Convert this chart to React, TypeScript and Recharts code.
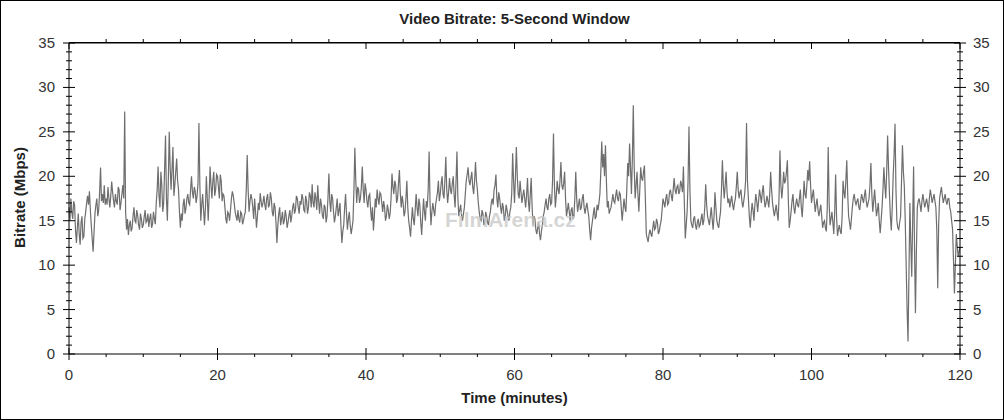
import { Line, LineChart, XAxis, YAxis } from "recharts";

// 5-second window bitrate, one reading every 0.125 min
const STEP_MIN = 0.125;
const BITRATE = [
    16.5, 15.0, 17.5, 16.0, 15.2, 17.2, 16.8, 14.0, 12.5, 14.2, 15.8, 13.5, 12.3, 14.8, 15.5, 13.0, 13.2, 15.2, 16.0, 17.0, 17.8, 16.8, 18.3, 16.2, 14.5, 13.0, 11.5, 13.8, 15.8, 16.8, 17.5, 15.5, 16.2, 18.2, 21.0, 17.2, 18.0, 17.0, 19.0, 16.8,
    17.5, 16.8, 18.8, 17.5, 16.5, 17.8, 19.4, 18.2, 17.2, 16.5, 18.0, 17.2, 16.8, 18.8, 18.5, 16.2, 17.0, 18.0, 19.0, 17.5, 27.3, 16.0, 14.0, 15.2, 13.4, 14.5, 15.0, 13.8, 14.2, 15.5, 16.5, 15.0, 14.8, 16.2, 15.6, 14.5, 14.0, 15.8, 15.2, 14.2,
    14.5, 15.4, 16.2, 14.8, 15.0, 15.8, 14.3, 15.2, 15.8, 14.2, 14.6, 16.0, 15.2, 14.6, 17.0, 18.5, 21.1, 17.8, 16.5, 20.5, 19.0, 16.0, 17.0, 20.8, 24.6, 17.5, 15.0, 19.5, 25.0, 21.0, 18.5, 20.8, 23.3, 17.8, 19.0, 20.5, 22.0, 19.5, 18.5, 16.0,
    14.2, 15.8, 15.0, 16.8, 17.5, 15.8, 16.4, 17.5, 18.0, 17.0, 16.8, 18.5, 20.0, 18.2, 17.5, 18.8, 18.3, 17.0, 17.8, 19.2, 26.0, 19.0, 15.0, 16.8, 18.0, 16.2, 14.5, 16.5, 20.0, 17.5, 15.0, 17.8, 21.1, 19.0, 17.5, 19.5, 20.5, 17.8, 18.5, 20.2,
    20.0, 18.8, 17.5, 20.2, 19.5, 17.2, 18.0, 17.8, 16.5, 15.2, 14.7, 16.0, 15.8, 15.0, 16.2, 17.5, 18.3, 17.8, 17.0, 16.0, 15.5, 15.0, 16.2, 15.2, 14.8, 16.0, 15.8, 14.6, 15.0, 15.6, 16.0, 18.5, 22.4, 18.5, 16.0, 17.2, 18.0, 17.5, 16.5, 15.2,
    17.5, 16.0, 14.2, 15.5, 17.0, 16.2, 18.1, 17.2, 16.5, 17.0, 17.8, 16.8, 16.2, 17.5, 18.0, 16.5, 16.8, 18.2, 17.5, 16.0, 15.5, 17.0, 16.5, 14.8, 12.5, 14.5, 15.8, 16.5, 14.5, 15.2, 16.0, 14.6, 15.0, 16.2, 15.5, 14.2, 14.8, 15.6, 16.2, 14.8,
    15.5, 16.5, 17.0, 15.8, 16.2, 17.8, 17.5, 16.5, 15.8, 17.2, 16.8, 18.0, 17.5, 16.2, 16.0, 17.8, 17.2, 15.8, 16.5, 18.2, 17.8, 16.5, 19.1, 17.0, 16.5, 18.2, 17.5, 16.2, 19.0, 17.2, 15.8, 17.5, 16.8, 15.6, 15.2, 16.8, 16.5, 14.8, 15.5, 17.5,
    20.3, 17.2, 16.0, 18.0, 17.5, 16.0, 14.8, 15.5, 16.5, 17.5, 15.5, 16.2, 17.0, 14.5, 12.5, 13.8, 14.5, 16.5, 18.0, 15.8, 14.0, 15.2, 16.0, 14.5, 13.5, 14.2, 15.0, 18.5, 23.2, 19.5, 17.0, 18.8, 18.5, 17.0, 17.5, 18.8, 21.1, 18.5, 17.0, 19.2,
    18.5, 17.2, 16.5, 17.8, 18.0, 16.2, 15.0, 16.5, 13.9, 15.5, 17.5, 16.5, 18.5, 17.5, 16.8, 18.2, 18.0, 17.0, 16.0, 17.2, 16.5, 15.0, 15.5, 16.8, 16.2, 15.2, 15.8, 17.5, 20.3, 18.8, 18.0, 19.5, 19.0, 17.0, 17.5, 19.2, 20.7, 18.0, 16.5, 17.8,
    17.0, 15.5, 16.0, 17.5, 19.5, 16.5, 15.0, 14.2, 13.2, 15.0, 16.5, 15.2, 14.5, 16.2, 18.0, 16.5, 15.5, 17.5, 16.8, 14.8, 13.4, 15.5, 17.5, 16.0, 15.0, 17.2, 16.5, 18.5, 22.8, 17.0, 14.5, 16.0, 17.0, 16.2, 15.5, 16.8, 17.5, 18.2, 19.5, 17.2,
    18.0, 19.2, 20.0, 18.0, 17.5, 19.5, 22.2, 18.5, 17.0, 18.2, 19.8, 18.5, 18.0, 19.2, 20.0, 17.8, 16.5, 19.5, 22.8, 17.5, 15.5, 16.2, 16.8, 15.5, 15.0, 15.8, 16.5, 18.0, 19.5, 20.2, 21.0, 19.5, 19.0, 19.8, 20.5, 18.8, 18.0, 19.5, 21.6, 19.5,
    18.5, 17.0, 16.0, 15.2, 15.0, 16.2, 15.8, 14.5, 14.8, 16.0, 15.5, 14.8, 14.5, 15.5, 16.0, 17.0, 17.5, 16.8, 18.5, 19.0, 20.2, 17.5, 16.5, 18.2, 17.5, 16.5, 15.8, 17.0, 16.5, 15.0, 15.5, 16.8, 16.2, 15.5, 15.0, 16.0, 16.5, 18.0, 22.6, 19.5,
    17.0, 19.8, 23.3, 20.0, 18.0, 17.5, 19.5, 18.2, 17.0, 17.8, 18.5, 17.5, 16.5, 17.8, 19.8, 17.2, 16.0, 18.0, 19.8, 16.5, 14.5, 15.5, 15.2, 14.0, 13.5, 14.2, 14.8, 13.5, 12.8, 13.8, 14.5, 15.5, 16.0, 16.8, 17.5, 16.5, 16.2, 17.5, 18.0, 16.8,
    17.0, 19.5, 24.8, 19.0, 16.5, 17.8, 19.5, 18.5, 18.0, 19.5, 21.6, 19.0, 18.5, 19.2, 20.5, 17.5, 15.5, 16.2, 17.0, 16.0, 15.0, 16.2, 16.5, 15.2, 15.5, 17.5, 20.5, 17.5, 16.0, 16.8, 17.5, 16.2, 16.5, 17.5, 18.0, 16.5, 15.8, 16.5, 17.0, 16.2,
    15.5, 14.0, 12.8, 14.2, 15.0, 15.8, 16.5, 15.2, 15.5, 16.8, 16.2, 17.0, 18.0, 20.5, 23.9, 21.0, 22.5, 20.0, 23.5, 19.5, 16.5, 17.2, 15.8, 16.2, 16.5, 17.2, 18.0, 17.2, 17.0, 17.8, 18.5, 17.5, 17.2, 18.2, 18.0, 16.5, 15.0, 16.2, 17.5, 16.5,
    16.0, 18.5, 21.5, 20.0, 23.7, 21.0, 18.0, 22.0, 28.0, 21.0, 17.5, 19.0, 20.5, 18.0, 16.0, 18.5, 21.0, 19.8, 19.5, 20.5, 21.2, 17.5, 13.5, 13.0, 12.6, 13.5, 14.0, 13.5, 13.2, 14.2, 15.0, 14.0, 14.2, 15.2, 14.8, 13.5, 13.8, 14.5, 15.0, 16.2,
    17.5, 17.0, 16.5, 17.5, 18.0, 16.8, 17.0, 18.2, 18.5, 17.8, 17.2, 18.5, 19.8, 18.5, 18.0, 18.8, 19.0, 18.0, 18.3, 19.5, 19.0, 18.2, 21.1, 17.0, 13.0, 14.5, 16.0, 19.5, 25.6, 18.5, 15.0, 14.5, 14.2, 15.2, 15.5, 14.5, 14.0, 14.8, 15.2, 14.3,
    14.5, 15.2, 15.8, 14.5, 15.0, 16.5, 19.1, 16.8, 15.5, 15.0, 14.5, 15.5, 16.5, 15.2, 14.0, 15.5, 18.2, 16.5, 15.0, 14.5, 14.2, 15.2, 16.0, 18.5, 21.8, 19.0, 17.5, 19.0, 20.5, 18.2, 17.0, 17.5, 16.5, 17.2, 17.8, 16.8, 16.2, 17.0, 17.5, 18.8,
    20.5, 18.5, 17.5, 18.2, 18.5, 17.2, 16.5, 17.2, 18.0, 19.5, 26.0, 19.5, 17.5, 15.5, 14.2, 15.8, 17.0, 16.2, 15.0, 16.8, 18.0, 17.2, 16.0, 17.2, 18.5, 17.8, 17.0, 18.2, 19.0, 17.5, 16.5, 17.0, 17.8, 17.2, 16.5, 18.0, 20.5, 18.5, 17.0, 16.2,
    15.5, 16.2, 16.8, 15.8, 15.0, 17.5, 22.9, 19.0, 17.5, 18.8, 20.5, 19.2, 19.5, 20.5, 21.8, 17.5, 14.2, 15.0, 16.0, 17.2, 18.0, 16.5, 15.8, 16.8, 17.5, 16.8, 16.5, 17.5, 18.5, 16.5, 15.4, 17.2, 19.5, 18.0, 17.5, 19.0, 20.7, 19.5, 21.7, 19.0,
    17.0, 17.8, 18.5, 17.2, 16.0, 16.8, 17.5, 16.2, 15.5, 16.2, 16.8, 15.5, 14.2, 14.8, 15.0, 14.2, 13.8, 16.5, 23.3, 17.0, 14.5, 15.2, 16.0, 14.8, 13.5, 16.0, 20.2, 15.5, 13.3, 14.0, 14.5, 13.8, 13.5, 15.5, 19.5, 18.2, 17.5, 19.5, 21.8, 18.0,
    15.5, 14.8, 14.0, 15.2, 16.5, 17.5, 18.0, 17.2, 16.8, 17.2, 17.5, 16.5, 16.2, 17.2, 18.0, 17.5, 17.0, 17.8, 18.5, 17.2, 16.5, 17.0, 17.5, 19.0, 21.5, 18.0, 16.0, 17.2, 18.5, 17.0, 15.5, 16.2, 17.0, 15.0, 13.6, 15.0, 16.5, 18.5, 21.0, 19.0,
    17.5, 20.5, 24.6, 21.0, 18.0, 15.5, 13.9, 16.5, 20.0, 22.5, 25.9, 18.5, 15.0, 14.2, 14.0, 14.8, 15.5, 19.5, 23.5, 20.5, 18.9, 15.0, 10.0, 5.0, 1.4, 9.0, 17.0, 12.5, 8.7, 15.0, 21.1, 12.0, 4.6, 11.5, 16.5, 17.2, 17.5, 16.8, 16.0, 17.2,
    18.0, 17.2, 16.5, 17.0, 17.5, 16.8, 16.0, 17.5, 18.5, 17.8, 17.0, 17.5, 18.0, 17.2, 16.5, 14.0, 7.4, 14.5, 17.5, 18.2, 18.8, 17.8, 17.0, 17.5, 18.0, 17.2, 16.8, 17.5, 17.5, 16.5, 16.0, 15.0, 14.0, 10.5, 6.8, 10.0, 13.5, 12.2, 11.0, 11.5,
    12.0,
];

const X_MIN = 0;
const X_MAX = 120;
const Y_MIN = 0;
const Y_MAX = 35;
const Y_TICKS = Array.from({ length: 36 }, (_, i) => i);
const X_TICKS = [0, 5, 10, 15, 20, 25, 30, 35, 40, 45, 50, 55, 60, 65, 70, 75, 80, 85, 90, 95, 100, 105, 110, 115, 120];

const data = BITRATE.map((v, i) => ({ t: i * STEP_MIN, v }));

const FONT = "'Liberation Sans', Arial, sans-serif";
const TICK_TEXT = "#333";

const CHART_W = 1004;
const CHART_H = 420;
const TOP_M = 43;
const LEFT_W = 69;
const RIGHT_W = 44;
const PLOT_W = CHART_W - LEFT_W - RIGHT_W;

// top frame line with its x ticks, hung off the left axis' top tick
const TopFrame = ({ x, y }: { x: number; y: number }) => (
    <g>
        <line x1={x} x2={x + PLOT_W} y1={y} y2={y} stroke="#000" />
        {X_TICKS.map((t) => {
            const tx = x + ((t - X_MIN) / (X_MAX - X_MIN)) * PLOT_W;
            return t % 20 === 0 ? (
                <line key={t} x1={tx} x2={tx} y1={y} y2={y + 6} stroke="#000" />
            ) : (
                <line key={t} x1={tx} x2={tx} y1={y - 4} y2={y} stroke="#000" />
            );
        })}
    </g>
);

const LeftTick = (props: any) => {
    const { x, y, payload } = props;
    const value = Number(payload.value);
    const major = value % 5 === 0;
    const len = major ? 6 : 3;
    return (
        <g>
            {value === Y_MAX && <TopFrame x={x} y={y} />}
            <line x1={x - len} x2={x + len} y1={y} y2={y} stroke="#000" />
            {major && (
                <text x={x - 14} y={y} dy={5} textAnchor="end" fontSize={15} fontFamily={FONT} fill={TICK_TEXT}>
                    {value}
                </text>
            )}
        </g>
    );
};

const RightTick = (props: any) => {
    const { x, y, payload } = props;
    const value = Number(payload.value);
    const major = value % 5 === 0;
    const len = major ? 6 : 3;
    return (
        <g>
            <line x1={x - len} x2={x + len} y1={y} y2={y} stroke="#000" />
            {major && (
                <text x={x + 13} y={y} dy={5} textAnchor="start" fontSize={15} fontFamily={FONT} fill={TICK_TEXT}>
                    {value}
                </text>
            )}
        </g>
    );
};

const BottomTick = (props: any) => {
    const { x, y, payload } = props;
    const value = Number(payload.value);
    const major = value % 20 === 0;
    return (
        <g>
            {major ? (
                <line x1={x} x2={x} y1={y - 6} y2={y + 6} stroke="#000" />
            ) : (
                <line x1={x} x2={x} y1={y} y2={y + 3} stroke="#000" />
            )}
            {major && (
                <text x={x} y={y + 26} textAnchor="middle" fontSize={15} fontFamily={FONT} fill={TICK_TEXT}>
                    {value}
                </text>
            )}
        </g>
    );
};

export default function App() {
    return (
        <div style={{ position: "fixed", left: 0, top: 0, width: CHART_W, height: CHART_H, background: "#fff", fontFamily: FONT }}>
            <div
                style={{
                    position: "absolute", left: LEFT_W, top: 10, width: PLOT_W, textAlign: "center",
                    fontSize: 15, fontWeight: "bold", color: "#222",
                }}
            >
                Video Bitrate: 5-Second Window
            </div>
            <div
                style={{
                    position: "absolute", left: LEFT_W, top: 389, width: PLOT_W, textAlign: "center",
                    fontSize: 15, fontWeight: "bold", color: "#222",
                }}
            >
                Time (minutes)
            </div>
            <div style={{ position: "absolute", left: 19, top: 198, width: 0, height: 0 }}>
                <div
                    style={{
                        position: "absolute", left: -100, top: -9, width: 200, textAlign: "center",
                        transform: "rotate(-90deg)", fontSize: 15, fontWeight: "bold", color: "#222", whiteSpace: "nowrap",
                    }}
                >
                    Bitrate (Mbps)
                </div>
            </div>
            <LineChart width={CHART_W} height={CHART_H} data={data} margin={{ top: TOP_M, right: 0, bottom: 0, left: 0 }}>
                <XAxis
                    dataKey="t"
                    type="number"
                    domain={[X_MIN, X_MAX]}
                    ticks={X_TICKS}
                    interval={0}
                    height={66}
                    tickSize={0}
                    tickMargin={0}
                    tickLine={false}
                    tick={BottomTick}
                    axisLine={{ stroke: "#000" }}
                />
                <YAxis
                    type="number"
                    domain={[Y_MIN, Y_MAX]}
                    ticks={Y_TICKS}
                    interval={0}
                    width={LEFT_W}
                    tickSize={0}
                    tickMargin={0}
                    tickLine={false}
                    tick={LeftTick}
                    axisLine={{ stroke: "#000" }}
                />
                <YAxis
                    yAxisId="right"
                    orientation="right"
                    type="number"
                    domain={[Y_MIN, Y_MAX]}
                    ticks={Y_TICKS}
                    interval={0}
                    width={RIGHT_W}
                    tickSize={0}
                    tickMargin={0}
                    tickLine={false}
                    tick={RightTick}
                    axisLine={{ stroke: "#000" }}
                />
                {/* invisible copy so the right axis gets its ticks */}
                <Line
                    yAxisId="right"
                    dataKey="v"
                    stroke="none"
                    dot={false}
                    activeDot={false}
                    isAnimationActive={false}
                />
                <Line
                    dataKey="v"
                    type="linear"
                    stroke="#6e6e6e"
                    strokeWidth={1.2}
                    dot={false}
                    isAnimationActive={false}
                />
            </LineChart>
            <div
                style={{
                    position: "absolute", left: 445, top: 208, fontSize: 21, fontWeight: "bold",
                    color: "rgba(200,200,200,0.75)", pointerEvents: "none",
                }}
            >
                FilmArena.cz
            </div>
            {/* top edge of the plot frame */}
            <div
                style={{
                    position: "absolute", left: LEFT_W, top: TOP_M - 1, width: PLOT_W, height: 1,
                    background: "#000", pointerEvents: "none",
                }}
            />
            <div
                style={{
                    position: "absolute", left: 0, top: 0, width: CHART_W, height: CHART_H, boxSizing: "border-box",
                    border: "1px solid #000", pointerEvents: "none",
                }}
            />
        </div>
    );
}
